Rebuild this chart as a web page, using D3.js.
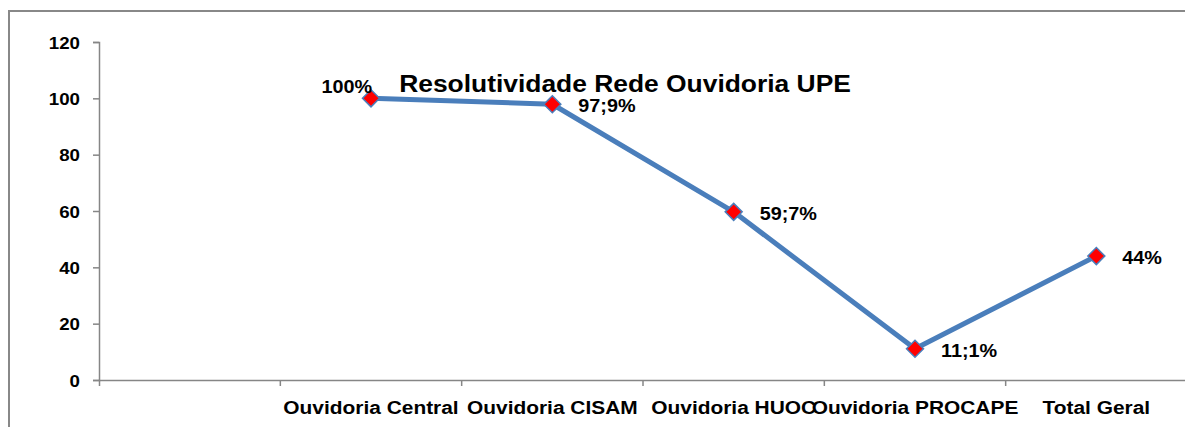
<!DOCTYPE html>
<meta charset="utf-8">
<style>
body { margin: 0; background: #fff; }
svg text {
  font-family: "Liberation Sans", Arial, sans-serif;
  font-weight: bold;
  fill: #000;
}
.axis path, .axis line { stroke: #868686; stroke-width: 1.5; }
</style>
<svg width="1185" height="427"></svg>
<script src="https://d3js.org/d3.v7.min.js"></script>
<script>

// dados
var categorias = ["", "Ouvidoria Central", "Ouvidoria CISAM", "Ouvidoria HUOC", "Ouvidoria PROCAPE", "Total Geral"];
var valores = [null, 100, 97.9, 59.7, 11.1, 44];
var rotulos = ["", "100%", "97;9%", "59;7%", "11;1%", "44%"];
var yTicks = [0, 20, 40, 60, 80, 100, 120];
var titulo = "Resolutividade Rede Ouvidoria UPE";

var svg = d3.select("svg");
var sx = 1.1; // o grafico original esta um pouco esticado na horizontal

// moldura
svg.append("rect")
    .attr("x", 9).attr("y", 11)
    .attr("width", 2000).attr("height", 2000)
    .attr("fill", "none")
    .attr("stroke", "#888")
    .attr("stroke-width", 2);

var x = d3.scaleBand().domain(categorias).range([99, 1187]);
var y = d3.scaleLinear().domain([0, 120]).range([380, 42]);

// eixo y
var gy = svg.append("g")
    .attr("class", "axis")
    .attr("transform", "translate(99,0)")
    .call(d3.axisLeft(y).tickValues(yTicks).tickSize(6).tickFormat(""));

gy.selectAll(".tick").append("text")
    .attr("text-anchor", "end")
    .attr("dy", "0.36em")
    .attr("transform", "translate(-19,0) scale(" + sx + ",1)")
    .style("font-size", "17px")
    .text(d => d);

// eixo x
var gx = svg.append("g")
    .attr("class", "axis")
    .attr("transform", "translate(0,380)")
    .call(d3.axisBottom(x).tickSize(0).tickSizeOuter(6).tickFormat(""));

gx.selectAll(".sep")
    .data(categorias.slice(1))
  .enter().append("line")
    .attr("x1", d => x(d)).attr("x2", d => x(d))
    .attr("y1", 0).attr("y2", 6);

gx.selectAll(".tick").append("text")
    .attr("text-anchor", "middle")
    .attr("transform", "translate(0,34) scale(" + sx + ",1)")
    .style("font-size", "19px")
    .text(d => d);

// linha
var pontos = categorias.map((c, i) => ({c: c, v: valores[i], r: rotulos[i]}))
    .filter(d => d.v !== null);

var cx = d => x(d.c) + x.bandwidth() / 2;

svg.append("path")
    .datum(pontos)
    .attr("fill", "none")
    .attr("stroke", "#4A7EBB")
    .attr("stroke-width", 5)
    .attr("stroke-linejoin", "round")
    .attr("d", d3.line().x(cx).y(d => y(d.v)));

svg.selectAll(".marcador")
    .data(pontos)
  .enter().append("path")
    .attr("transform", d => "translate(" + cx(d) + "," + y(d.v) + ")")
    .attr("d", "M0,-8.5L8.5,0L0,8.5L-8.5,0Z")
    .attr("fill", "#FF0000")
    .attr("stroke", "#4A7EBB")
    .attr("stroke-width", 1.5);

// rotulos dos dados (o primeiro fica a esquerda)
svg.selectAll(".rotulo")
    .data(pontos)
  .enter().append("text")
    .attr("text-anchor", (d, i) => i === 0 ? "end" : "start")
    .attr("transform", (d, i) => i === 0
        ? "translate(" + (cx(d) + 1) + "," + (y(d.v) - 5) + ") scale(" + sx + ",1)"
        : "translate(" + (cx(d) + 26) + "," + (y(d.v) + 8) + ") scale(" + sx + ",1)")
    .style("font-size", "18px")
    .text(d => d.r);

// titulo
svg.append("text")
    .attr("text-anchor", "middle")
    .attr("transform", "translate(625,92) scale(" + sx + ",1)")
    .style("font-size", "24px")
    .text(titulo);

</script>
